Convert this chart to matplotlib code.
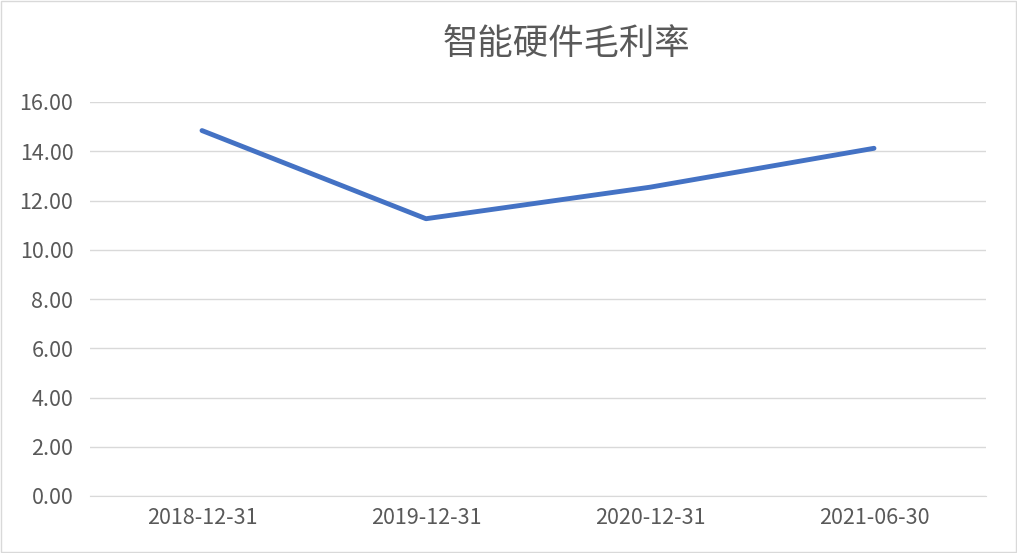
import matplotlib.pyplot as plt
from matplotlib.patches import Rectangle

plt.rcParams['font.family'] = ['Noto Sans CJK SC', 'DejaVu Sans']

dates = ["2018-12-31", "2019-12-31", "2020-12-31", "2021-06-30"]
margin = [14.84, 11.26, 12.54, 14.12]

fig = plt.figure(figsize=(10.17, 5.53), dpi=100)
ax = fig.add_axes([90 / 1017, 1 - 496 / 553, 896 / 1017, 394 / 553])

x = range(len(dates))
ax.plot(x, margin, color="#4472C4", linewidth=3.5, solid_capstyle="round")

ax.set_xlim(-0.5, len(dates) - 0.5)
ax.set_ylim(0, 16)
ax.set_yticks(range(0, 17, 2))
ax.set_yticklabels(["{:.2f}".format(v) for v in range(0, 17, 2)])
ax.set_xticks(list(x))
ax.set_xticklabels(dates)
ax.tick_params(axis="both", length=0, labelsize=15.5, labelcolor="#595959")
ax.tick_params(axis="y", pad=12)
ax.tick_params(axis="x", pad=8)
for lbl in ax.get_xticklabels() + ax.get_yticklabels():
    lbl.set_fontweight("light")
ax.grid(axis="y", color="#D9D9D9", linewidth=1)
ax.set_axisbelow(True)
for s in ["top", "right", "left"]:
    ax.spines[s].set_visible(False)
ax.spines["bottom"].set_color("#D9D9D9")

fig.text(566 / 1017, 1 - 45 / 553, "智能硬件毛利率", ha="center", va="center",
         fontsize=25.5, color="#595959", fontweight="light")
fig.patches.append(Rectangle((1 / 1017, 1 / 553), 1015 / 1017, 551 / 553,
                             transform=fig.transFigure, fill=False,
                             edgecolor="#D9D9D9", linewidth=1))

fig.savefig("out.png", dpi=100)
